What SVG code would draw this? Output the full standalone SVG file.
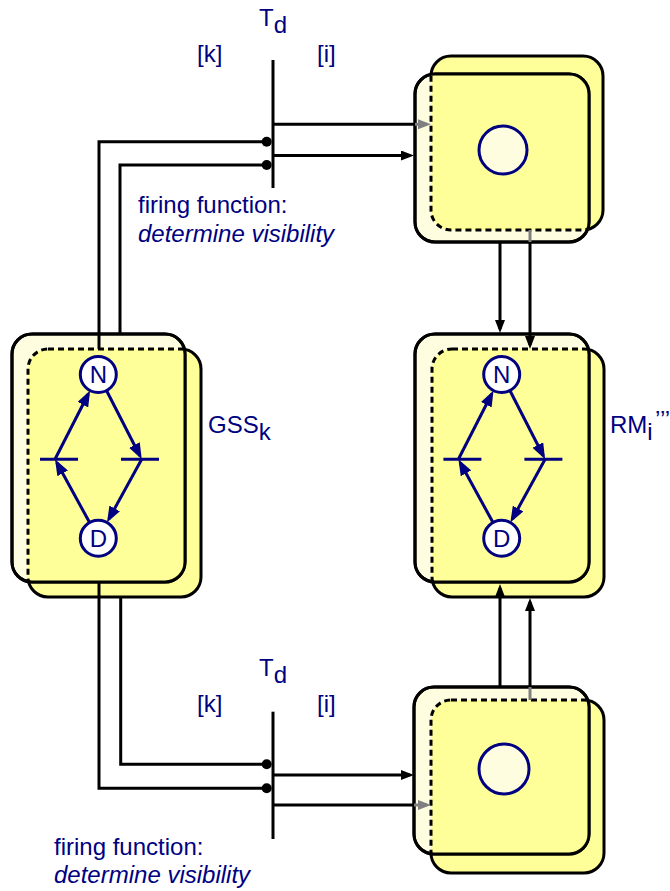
<svg xmlns="http://www.w3.org/2000/svg" width="670" height="891" viewBox="0 0 670 891">
<style>
.back{fill:#FFFF99;stroke:#000;stroke-width:3}
.front{fill:#FFFDE0;stroke:#000;stroke-width:3}
.dash{fill:#FFFF99;stroke:#000;stroke-width:3;stroke-dasharray:6 4}
.fs{fill:none;stroke:#000;stroke-width:3}
.t{font-family:"Liberation Sans",Arial,sans-serif;font-size:24px;fill:#000080}
.ti{font-family:"Liberation Sans",Arial,sans-serif;font-size:24px;fill:#000080;font-style:italic}
.pl{font-family:"Liberation Sans",Arial,sans-serif;font-size:24px;fill:#000080;text-anchor:middle}
.pc{fill:#FFFFFF;stroke:#000080;stroke-width:3}
.bc{fill:#FFFDE0;stroke:#000080;stroke-width:3}
.pb{stroke:#000080;stroke-width:3}
.pa{stroke:#000080;stroke-width:3;fill:none;marker-end:url(#an)}
.c{fill:none;stroke:#000;stroke-width:3}
.ca{fill:none;stroke:#000;stroke-width:3;marker-end:url(#ab)}
.g{fill:none;stroke:#808080;stroke-width:3}
.ga{fill:none;stroke:#808080;stroke-width:3;marker-end:url(#ag)}
</style>
<defs>
<marker id="ab" markerUnits="userSpaceOnUse" markerWidth="13" markerHeight="10" refX="9" refY="5" orient="auto"><path d="M0,0 L13,5 L0,10 z" fill="#000"/></marker>
<marker id="ag" markerUnits="userSpaceOnUse" markerWidth="13" markerHeight="10" refX="9" refY="5" orient="auto"><path d="M0,0 L13,5 L0,10 z" fill="#808080"/></marker>
<marker id="an" markerUnits="userSpaceOnUse" markerWidth="16" markerHeight="12" refX="12" refY="6" orient="auto"><path d="M0,0 L16,6 L0,12 z" fill="#000080"/></marker>
<clipPath id="cTop"><rect x="415" y="74" width="174" height="168" rx="20"/></clipPath>
<clipPath id="cBot"><rect x="414" y="687" width="175" height="167" rx="20"/></clipPath>
<clipPath id="cGss"><rect x="12" y="334" width="173" height="248" rx="20"/></clipPath>
<clipPath id="cRm"><rect x="415" y="334" width="174" height="248" rx="20"/></clipPath>
</defs>

<g id="node-top">
<rect class="back" x="431" y="56" width="172" height="174" rx="20"/>
<rect class="front" x="415" y="74" width="174" height="168" rx="20"/>
<rect class="dash" x="431" y="56" width="172" height="174" rx="20" clip-path="url(#cTop)"/>
<rect class="fs" x="415" y="74" width="174" height="168" rx="20"/>
<circle class="bc" cx="503" cy="150" r="24"/>
</g>

<g id="node-gss">
<rect class="back" x="28" y="349" width="173" height="248" rx="20"/>
<rect class="front" x="12" y="334" width="173" height="248" rx="20"/>
<rect class="dash" x="28" y="349" width="173" height="248" rx="20" clip-path="url(#cGss)"/>
<rect class="fs" x="12" y="334" width="173" height="248" rx="20"/>
<line class="pb" x1="40" y1="459.3" x2="78" y2="459.3"/>
<line class="pb" x1="121" y1="459.3" x2="159" y2="459.3"/>
<line class="pa" x1="55" y1="459.3" x2="88.3" y2="394"/>
<line class="pa" x1="106.5" y1="390.5" x2="139.9" y2="455.7"/>
<line class="pa" x1="141.7" y1="459.3" x2="108.9" y2="519"/>
<line class="pa" x1="89.6" y1="522.5" x2="56.9" y2="462.8"/>
<circle class="pc" cx="98.3" cy="374.5" r="18"/>
<circle class="pc" cx="98.3" cy="538.3" r="18"/>
<text class="pl" x="98.3" y="383">N</text>
<text class="pl" x="98.3" y="547">D</text>
</g>

<g id="node-rm">
<rect class="back" x="432" y="349" width="172" height="248" rx="20"/>
<rect class="front" x="415" y="334" width="174" height="248" rx="20"/>
<rect class="dash" x="432" y="349" width="172" height="248" rx="20" clip-path="url(#cRm)"/>
<rect class="fs" x="415" y="334" width="174" height="248" rx="20"/>
<g transform="translate(403.4,0)">
<line class="pb" x1="40" y1="459.3" x2="78" y2="459.3"/>
<line class="pb" x1="121" y1="459.3" x2="159" y2="459.3"/>
<line class="pa" x1="55" y1="459.3" x2="88.3" y2="394"/>
<line class="pa" x1="106.5" y1="390.5" x2="139.9" y2="455.7"/>
<line class="pa" x1="141.7" y1="459.3" x2="108.9" y2="519"/>
<line class="pa" x1="89.6" y1="522.5" x2="56.9" y2="462.8"/>
<circle class="pc" cx="98.3" cy="374.5" r="18"/>
<circle class="pc" cx="98.3" cy="538.3" r="18"/>
<text class="pl" x="98.3" y="383">N</text>
<text class="pl" x="98.3" y="547">D</text>
</g>
</g>

<g id="node-bottom">
<rect class="back" x="431" y="700" width="173" height="173" rx="20"/>
<rect class="front" x="414" y="687" width="175" height="167" rx="20"/>
<rect class="dash" x="431" y="700" width="173" height="173" rx="20" clip-path="url(#cBot)"/>
<rect class="fs" x="414" y="687" width="175" height="167" rx="20"/>
<circle class="bc" cx="504" cy="769" r="25"/>
</g>

<g id="labels">
<text class="t" x="259" y="26">T<tspan dy="7">d</tspan></text>
<text class="t" x="197" y="62">[k]</text>
<text class="t" x="317" y="62">[i]</text>
<text class="t" x="138" y="213">firing function:</text>
<text class="ti" x="138" y="242">determine visibility</text>
<text class="t" x="208" y="433">GSS<tspan dy="7">k</tspan></text>
<text class="t" x="610" y="433">RM<tspan dy="7">i</tspan></text>
<text class="t" x="655" y="428">’’’</text>
<text class="t" x="259" y="676">T<tspan dy="7">d</tspan></text>
<text class="t" x="197" y="712">[k]</text>
<text class="t" x="317" y="712">[i]</text>
<text class="t" x="54" y="855">firing function:</text>
<text class="ti" x="54" y="883">determine visibility</text>
</g>

<g id="connectors">
<line class="c" x1="273" y1="60" x2="273" y2="188"/>
<polyline class="c" points="99,349 99,141.7 266.7,141.7"/>
<polyline class="c" points="120,334 120,165 266.7,165"/>
<circle cx="266.7" cy="141.7" r="5" fill="#000"/>
<circle cx="266.7" cy="165" r="5" fill="#000"/>
<line class="c" x1="273" y1="124.3" x2="416" y2="124.3"/>
<line class="ga" x1="415" y1="124.3" x2="427" y2="124.3"/>
<line class="ca" x1="273" y1="155.5" x2="410" y2="155.5"/>
<line class="ca" x1="500" y1="242" x2="500" y2="329"/>
<line class="g" x1="530" y1="230" x2="530" y2="242"/>
<line class="ca" x1="530" y1="242" x2="530" y2="345"/>

<line class="c" x1="273" y1="711.7" x2="273" y2="839"/>
<polyline class="c" points="120.7,597 120.7,764.3 266.7,764.3"/>
<polyline class="c" points="99,582 99,788.3 266.7,788.3"/>
<circle cx="266.7" cy="764.3" r="5" fill="#000"/>
<circle cx="266.7" cy="788.3" r="5" fill="#000"/>
<line class="ca" x1="273" y1="775" x2="410" y2="775"/>
<line class="c" x1="273" y1="805" x2="415" y2="805"/>
<line class="ga" x1="414" y1="805" x2="427" y2="805"/>
<line class="ca" x1="500" y1="687" x2="500" y2="588"/>
<line class="g" x1="530" y1="700" x2="530" y2="687"/>
<line class="ca" x1="530" y1="687" x2="530" y2="602"/>
</g>
</svg>
